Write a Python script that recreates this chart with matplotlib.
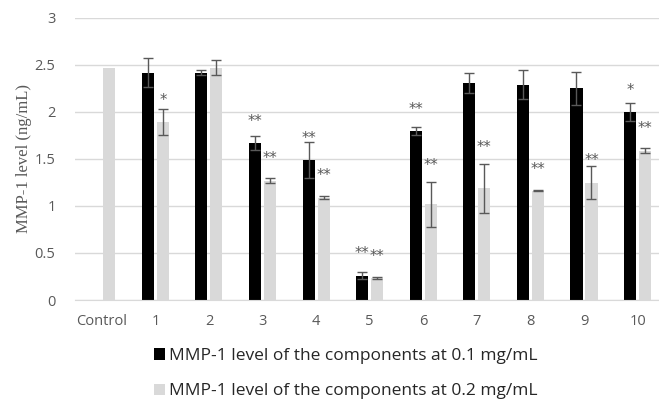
import matplotlib
matplotlib.use('Agg')
import matplotlib.pyplot as plt
import numpy as np

# categories and values
cats = ['Control', '1', '2', '3', '4', '5', '6', '7', '8', '9', '10']
low = [np.nan, 2.42, 2.42, 1.67, 1.49, 0.26, 1.80, 2.31, 2.29, 2.25, 2.00]
low_err = [0, 0.15, 0.03, 0.07, 0.19, 0.04, 0.04, 0.11, 0.155, 0.18, 0.10]
high = [2.47, 1.89, 2.47, 1.27, 1.09, 0.23, 1.02, 1.19, 1.16, 1.25, 1.59]
high_err = [0, 0.14, 0.08, 0.03, 0.02, 0.01, 0.24, 0.26, 0.005, 0.18, 0.03]
low_stars = ['', '', '', '**', '**', '**', '**', '', '', '', '*']
high_stars = ['', '*', '', '**', '**', '**', '**', '**', '**', '**', '**']
labels = ['MMP-1 level of the components at 0.1 mg/mL',
          'MMP-1 level of the components at 0.2 mg/mL']

plt.rcParams['font.family'] = ['Open Sans', 'DejaVu Sans']
grey = '#595959'

fig = plt.figure(figsize=(6.59, 4.01), dpi=100)
ax = fig.add_axes([75/659, 101/401, 584/659, 282/401])

x = np.arange(len(cats))
w = 0.225
off = 0.14
ax.bar(x-off, low, w, color='black', label=labels[0], zorder=2)
ax.bar(x+off, high, w, color='#d9d9d9', label=labels[1], zorder=2)
# control has no error bar
ax.errorbar(x[1:]-off, low[1:], yerr=low_err[1:], fmt='none', ecolor=grey,
            elinewidth=1, capsize=3.5, capthick=1, zorder=3)
ax.errorbar(x[1:]+off, high[1:], yerr=high_err[1:], fmt='none', ecolor=grey,
            elinewidth=1, capsize=3.5, capthick=1, zorder=3)

# significance marks above bars (or above long error bars)
def star_y(v, e):
    if e >= 0.2:
        return v + e + 0.17
    return v + 0.23

for i in range(len(cats)):
    if low_stars[i]:
        ax.text(x[i]-off, star_y(low[i], low_err[i]), low_stars[i], ha='center',
                va='center', color=grey, fontsize=10.5, family='DejaVu Sans')
    if high_stars[i]:
        ax.text(x[i]+off, star_y(high[i], high_err[i]), high_stars[i], ha='center',
                va='center', color=grey, fontsize=10.5, family='DejaVu Sans')

ax.set_xlim(-0.5, 10.4)
ax.set_ylim(0, 3)
ax.set_yticks([0, 0.5, 1, 1.5, 2, 2.5, 3])
ax.set_yticklabels(['0', '0.5', '1', '1.5', '2', '2.5', '3'])
ax.set_xticks(x)
ax.set_xticklabels(cats)
ax.yaxis.grid(True, color='#d9d9d9', lw=1, zorder=0)
ax.set_axisbelow(True)
for s in ['top', 'right', 'left']:
    ax.spines[s].set_visible(False)
ax.spines['bottom'].set_color('#d9d9d9')
ax.tick_params(axis='both', length=0, labelsize=10.5, labelcolor=grey)
ax.tick_params(axis='y', pad=14)
ax.tick_params(axis='x', pad=10)
ax.set_ylabel('MMP-1 level (ng/mL)', family='Liberation Serif', fontsize=12,
              color=grey, labelpad=2)

fig.legend(loc='center', bbox_to_anchor=(0.525, 0.068), ncol=1, frameon=False,
           fontsize=12.5, handlelength=0.62, handleheight=0.62, handletextpad=0.25,
           labelspacing=1.1, labelcolor='#262626')

fig.savefig('out.png', dpi=100)
